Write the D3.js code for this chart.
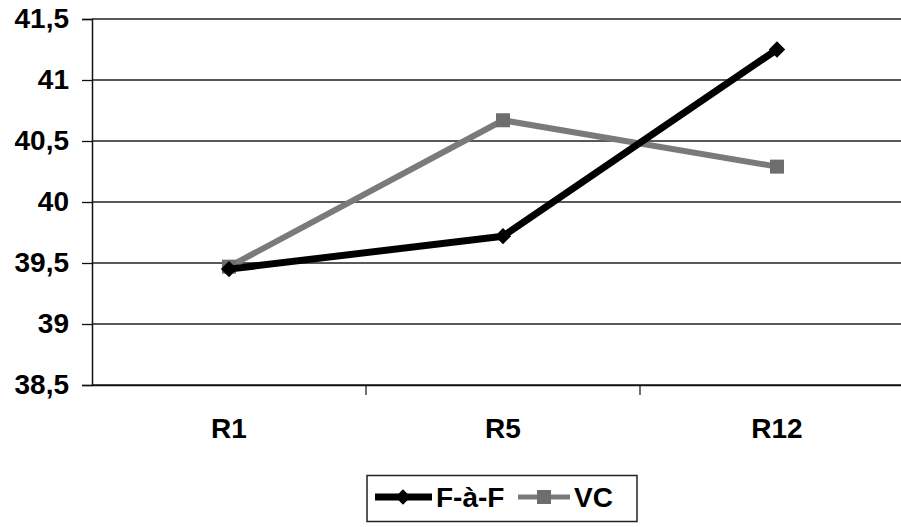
<!DOCTYPE html>
<html><head><meta charset="utf-8">
<script src="https://cdn.jsdelivr.net/npm/d3@7"></script>
<style>body{margin:0;background:#fff}svg{display:block}text{font-family:"Liberation Sans",Arial,sans-serif;fill:#000}</style>
</head><body><svg id="c" width="901" height="527"></svg>
<script>
const categories = ["R1", "R5", "R12"];
const seriesFaF = [39.45, 39.72, 41.25];
const seriesVC = [39.47, 40.67, 40.29];
const yTicks = [38.5, 39, 39.5, 40, 40.5, 41, 41.5];
const seriesNames = ["F-à-F", "VC"];

const svg = d3.select("#c");
const x = d3.scaleBand().domain(categories).range([92, 914]).paddingInner(0).paddingOuter(0);
const y = d3.scaleLinear().domain([38.5, 41.5]).range([385, 19]);
const fmt = v => String(v).replace(".", ",");
const FS = 28;

// gridlines
svg.append("g").selectAll("line").data(yTicks).join("line")
  .attr("x1", 92).attr("x2", 901).attr("y1", d => y(d)).attr("y2", d => y(d))
  .attr("stroke", "#222").attr("stroke-width", 1.3);

// y axis
const ya = svg.append("g").attr("transform", "translate(92,0)")
  .call(d3.axisLeft(y).tickValues(yTicks).tickFormat(fmt).tickSize(10).tickPadding(13));
ya.select(".domain").attr("stroke", "#111").attr("stroke-width", 1.5);
ya.selectAll(".tick line").attr("stroke", "#111").attr("stroke-width", 1.3);
ya.selectAll("text").attr("font-size", FS).attr("font-weight", "bold")
  .attr("font-family", "Liberation Sans, Arial, sans-serif").attr("fill", "#000");

// x axis
const xa = svg.append("g").attr("transform", "translate(0,385)")
  .call(d3.axisBottom(x).tickSize(0).tickPadding(33));
xa.select(".domain").attr("stroke", "#111").attr("stroke-width", 1.5);
xa.selectAll("text").attr("font-size", FS).attr("font-weight", "bold")
  .attr("font-family", "Liberation Sans, Arial, sans-serif").attr("fill", "#000");
// category separator ticks
svg.append("g").selectAll("line").data(categories.slice(1)).join("line")
  .attr("x1", d => x(d)).attr("x2", d => x(d)).attr("y1", 385).attr("y2", 395)
  .attr("stroke", "#111").attr("stroke-width", 1.2);

const cx = c => x(c) + x.bandwidth() / 2;
const line = d3.line().x((d, i) => cx(categories[i])).y(d => y(d));

// VC series
svg.append("path").datum(seriesVC).attr("d", line).attr("fill", "none")
  .attr("stroke", "#7a7a7a").attr("stroke-width", 6).attr("stroke-linejoin", "round");
svg.append("g").selectAll("rect").data(seriesVC).join("rect")
  .attr("x", (d, i) => cx(categories[i]) - 7).attr("y", d => y(d) - 7)
  .attr("width", 14).attr("height", 14).attr("fill", "#6e6e6e");

// F-à-F series
svg.append("path").datum(seriesFaF).attr("d", line).attr("fill", "none")
  .attr("stroke", "#000").attr("stroke-width", 7).attr("stroke-linejoin", "round");
svg.append("g").selectAll("path").data(seriesFaF).join("path")
  .attr("d", d3.symbol(d3.symbolDiamond2, 170)())
  .attr("transform", (d, i) => `translate(${cx(categories[i])},${y(d)})`)
  .attr("fill", "#000");

// legend
const lg = svg.append("g");
lg.append("rect").attr("x", 367).attr("y", 475.5).attr("width", 270).attr("height", 46)
  .attr("fill", "#fff").attr("stroke", "#222").attr("stroke-width", 1.5);
const ly = 497;
lg.append("line").attr("x1", 375).attr("x2", 432).attr("y1", ly).attr("y2", ly)
  .attr("stroke", "#000").attr("stroke-width", 7);
lg.append("path").attr("d", d3.symbol(d3.symbolDiamond2, 150)())
  .attr("transform", `translate(403,${ly})`).attr("fill", "#000");
lg.append("text").attr("x", 436).attr("y", ly + 10).attr("font-size", FS).attr("font-weight", "bold").text(seriesNames[0]);
lg.append("line").attr("x1", 518).attr("x2", 570).attr("y1", ly).attr("y2", ly)
  .attr("stroke", "#7a7a7a").attr("stroke-width", 5);
lg.append("rect").attr("x", 537).attr("y", ly - 7).attr("width", 14).attr("height", 14).attr("fill", "#6e6e6e");
lg.append("text").attr("x", 574).attr("y", ly + 10).attr("font-size", FS).attr("font-weight", "bold").text(seriesNames[1]);
</script></body></html>
